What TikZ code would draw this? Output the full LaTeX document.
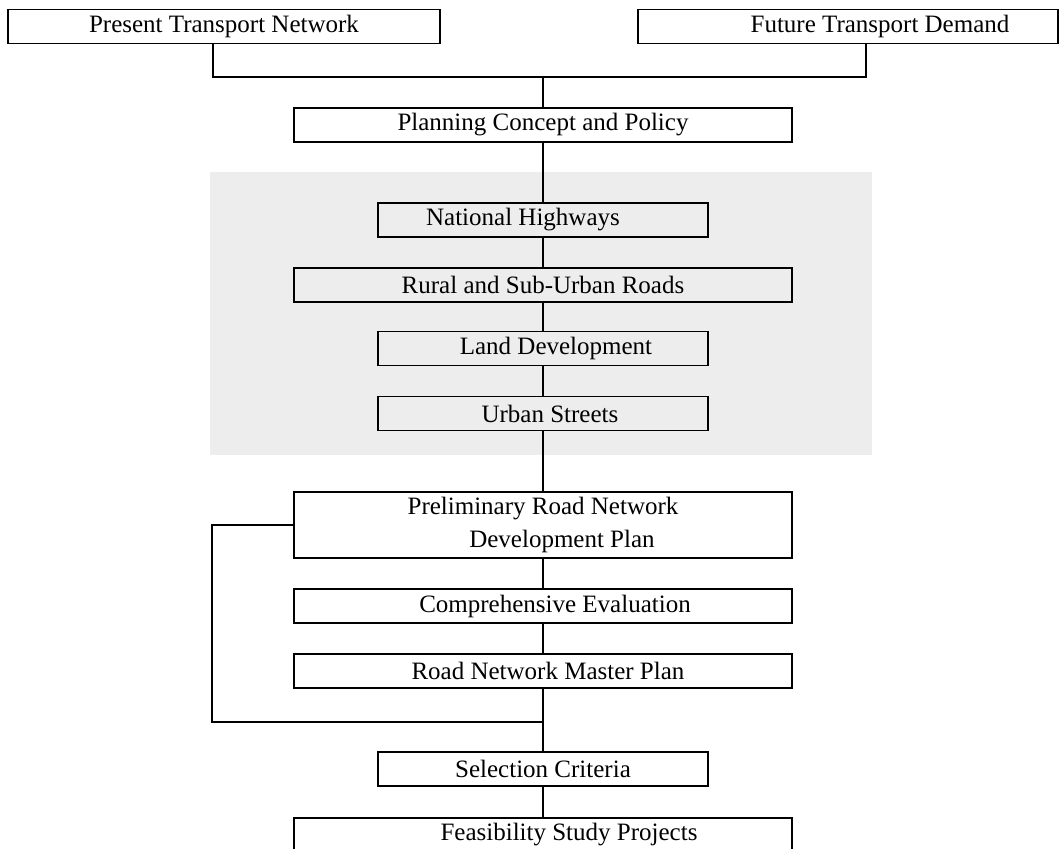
\documentclass[tikz,border=0pt]{standalone}
\usepackage{fontspec}
\setmainfont{Liberation Serif}

\begin{document}
\begin{tikzpicture}[x=1pt, y=-1pt,
  box/.style={draw, line width=1.4pt, inner sep=2pt,
              minimum height=34pt, align=center,
              font=\fontsize{25}{33}\selectfont},
  wide/.style={box, minimum width=498pt},
  narrow/.style={box, minimum width=330pt},
  link/.style={line width=1.8pt}
]
  \useasboundingbox (0,0) rectangle (1061,849);
  \fill[black!7] (210,172) rectangle (872,455);

  \node[box, minimum width=432pt] (pres) at (224,26.5) {Present Transport Network};
  \node[box, minimum width=420pt] (fut)  at (848,26.5) {\hspace*{64pt}Future Transport Demand};
  \coordinate (j) at (543,77);

  \node[wide]   (plan)   at (543,125)   {Planning Concept and Policy};
  \node[narrow] (nh)     at (543,220)   {National Highways\hspace*{40pt}};
  \node[wide]   (rural)  at (543,285)   {Rural and Sub-Urban Roads};
  \node[narrow] (land)   at (543,348.5) {\hspace*{26pt}Land Development};
  \node[narrow] (urban)  at (543,413.5) {\hspace*{14pt}Urban Streets};
  \node[wide, minimum height=66pt] (prelim) at (543,525)
    {Preliminary Road Network\\ \hspace*{38pt}Development Plan};
  \node[wide]   (comp)   at (543,606)   {\hspace*{24pt}Comprehensive Evaluation};
  \node[wide]   (master) at (543,671)   {\hspace*{10pt}Road Network Master Plan};
  \coordinate (k) at (543,722);
  \node[narrow] (sel)    at (543,769)   {Selection Criteria};
  \node[wide]   (feas)   at (543,835)   {\hspace*{52pt}Feasibility Study Projects};

  \draw[link] ([xshift=-11pt]pres.south) |- (j) -| ([xshift=18pt]fut.south);
  \draw[link] (j) -- (plan) -- (nh) -- (rural) -- (land) -- (urban)
    -- (prelim) -- (comp) -- (master) -- (sel) -- (feas);
  \draw[link] (prelim.west) -- ++(-81,0) |- (k);
\end{tikzpicture}
\end{document}
